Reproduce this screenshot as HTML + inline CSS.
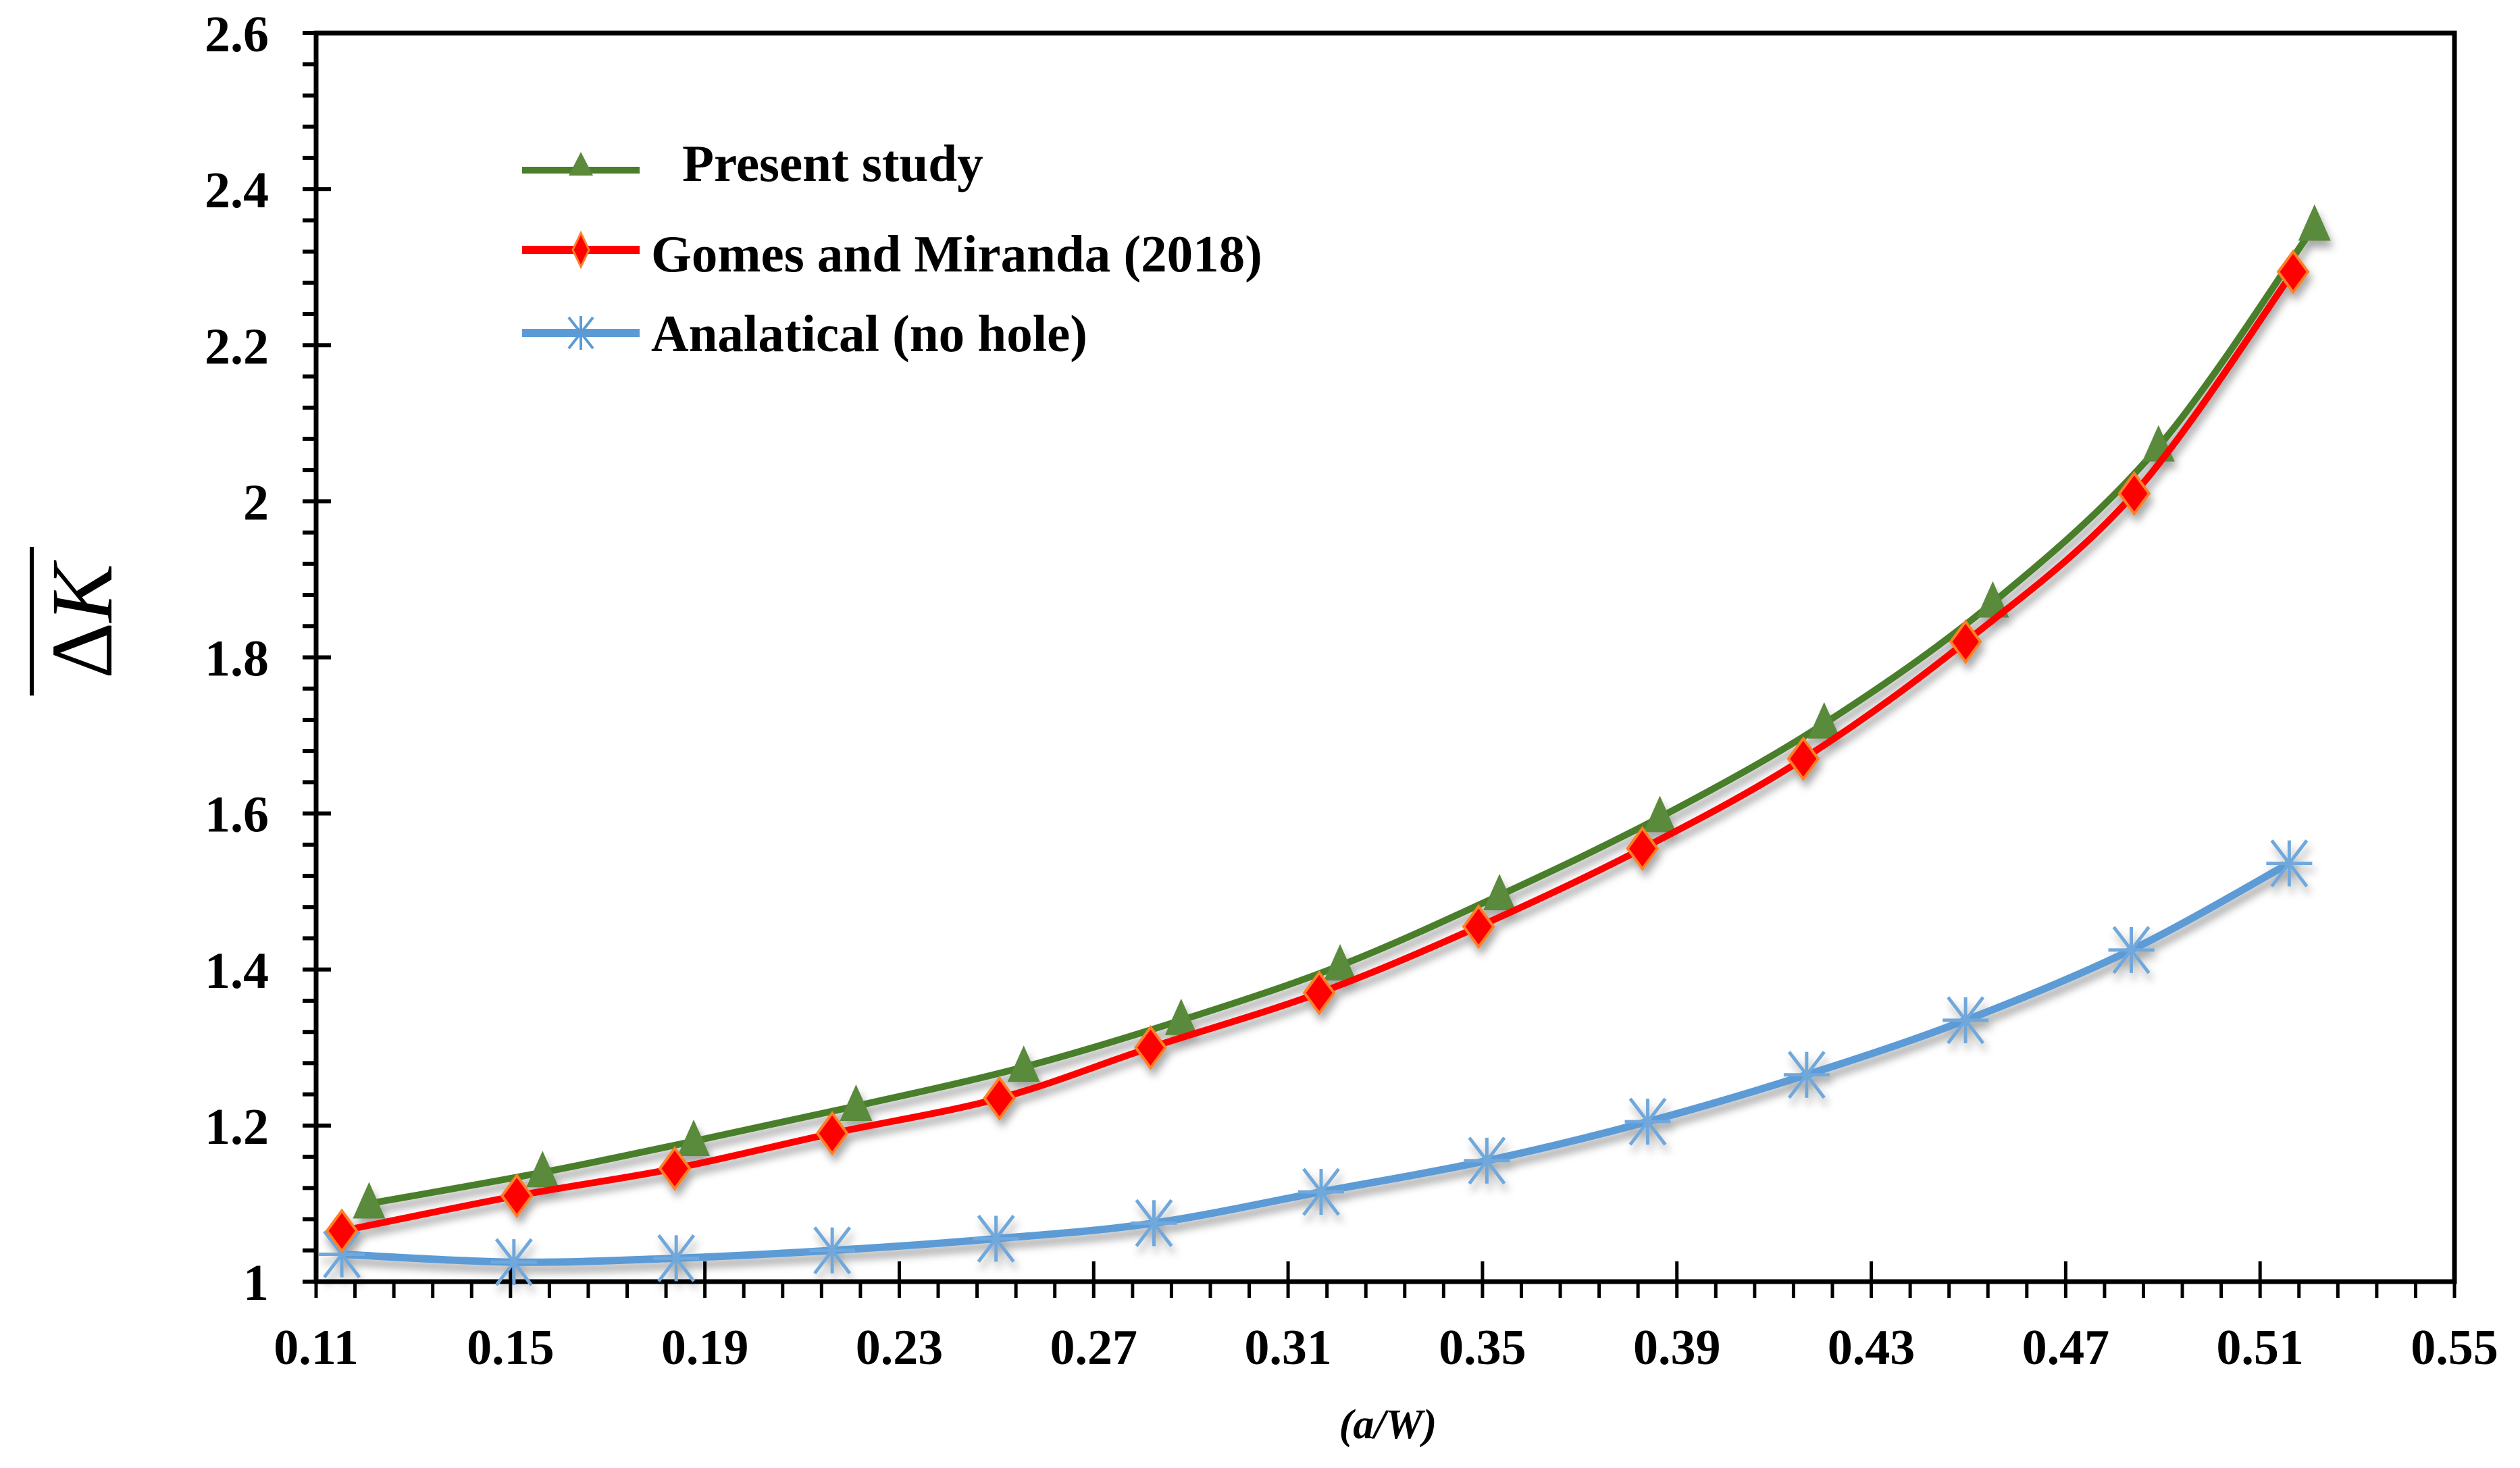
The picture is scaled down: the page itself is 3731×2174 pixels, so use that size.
<!DOCTYPE html>
<html><head><meta charset="utf-8"><style>
html,body{margin:0;padding:0;background:#fff}
svg{display:block}
text{font-family:"Liberation Serif",serif;font-weight:bold;fill:#000}
</style></head><body>
<svg id="chart" width="3731" height="2174" viewBox="0 0 3731 2174" xmlns="http://www.w3.org/2000/svg">
<defs>
<filter id="sh" x="-10%" y="-10%" width="120%" height="130%"><feDropShadow dx="4" dy="10" stdDeviation="6" flood-color="#000" flood-opacity="0.35"/></filter>
</defs>
<g id="axes"></g>
<g id="series" filter="url(#sh)"></g>
<g>
  <g>
    <line x1="773" y1="252" x2="947" y2="252" stroke="#4a7e2a" stroke-width="10"/>
    <polygon points="860,225 878,260 842,260" fill="#5a8a3a"/>
    <text x="1010" y="268" font-size="77">Present study</text>
  </g>
  <g>
    <line x1="773" y1="370" x2="947" y2="370" stroke="#ff0000" stroke-width="12"/>
    <polygon points="860,345 872,370 860,395 848,370" fill="#ff0000" stroke="#ff7f27" stroke-width="3"/>
    <text x="964" y="402" font-size="77">Gomes and Miranda (2018)</text>
  </g>
  <g>
    <line x1="773" y1="493" x2="947" y2="493" stroke="#5b9bd5" stroke-width="12"/>
    <g stroke="#5b9bd5" stroke-width="4"><line x1="860" y1="468" x2="860" y2="518"/><line x1="842" y1="470" x2="878" y2="516"/><line x1="878" y1="470" x2="842" y2="516"/><line x1="835" y1="493" x2="885" y2="493"/></g>
    <text x="964" y="520" font-size="77">Analatical (no hole)</text>
  </g>
</g>
<g transform="translate(165,920) rotate(-90)">
  <text x="0" y="0" font-size="130" text-anchor="middle" style="font-weight:normal">Δ<tspan font-style="italic">K</tspan></text>
  <line x1="-110" y1="-118" x2="110" y2="-118" stroke="#000" stroke-width="6"/>
</g>
<text x="2055" y="2130" font-size="62" font-style="italic" text-anchor="middle">(a/W)</text>
</svg>
<script>
const xTicks=["0.11","0.15","0.19","0.23","0.27","0.31","0.35","0.39","0.43","0.47","0.51","0.55"];
const yTicks=["1","1.2","1.4","1.6","1.8","2","2.2","2.4","2.6"];
const presentX=[0.1209,0.1566,0.1877,0.2211,0.2556,0.2880,0.3207,0.3535,0.3865,0.4203,0.4550,0.4891,0.5212];
const presentY=[1.10,1.14,1.18,1.225,1.275,1.335,1.405,1.495,1.595,1.715,1.87,2.07,2.353];
const gomesX=[0.1153,0.1513,0.1838,0.2162,0.2506,0.2817,0.3164,0.3492,0.3829,0.4160,0.4494,0.4841,0.5168];
const gomesY=[1.065,1.11,1.145,1.19,1.235,1.30,1.37,1.455,1.555,1.67,1.82,2.01,2.294];
const analX=[0.1153,0.1507,0.1841,0.2162,0.2499,0.2824,0.3168,0.3509,0.3840,0.4167,0.4494,0.4835,0.5160];
const analY=[1.035,1.025,1.03,1.04,1.055,1.075,1.115,1.155,1.205,1.265,1.335,1.425,1.536];

const NS="http://www.w3.org/2000/svg";
const X0=468,X1=3634,Y0=1898,Y1=49;
const xmin=0.11,xmax=0.55,ymin=1,ymax=2.6;
const sx=v=>X0+(v-xmin)/(xmax-xmin)*(X1-X0);
const sy=v=>Y0-(v-ymin)/(ymax-ymin)*(Y0-Y1);
function mk(tag,attrs,parent){const e=document.createElementNS(NS,tag);for(const k in attrs)e.setAttribute(k,attrs[k]);parent.appendChild(e);return e;}
const axes=document.getElementById('axes');
let box=mk('rect',{x:X0,y:Y1,width:X1-X0,height:Y0-Y1,fill:'none',stroke:'#000','stroke-width':7},axes);


for(let i=0;i<xTicks.length;i++){
  const v=parseFloat(xTicks[i]);const x=sx(v);
  const t=mk('line',{x1:x,y1:Y0-30,x2:x,y2:Y0+24,stroke:'#000','stroke-width':5},axes);
  
  
  const l=mk('text',{x:x,y:2020,'font-size':74,'text-anchor':'middle'},axes);l.textContent=xTicks[i];
  
  
  if(i<xTicks.length-1){for(let k=1;k<5;k++){const xm=sx(v+0.008*k);
    const m=mk('line',{x1:xm,y1:Y0,x2:xm,y2:Y0+24,stroke:'#000','stroke-width':5},axes);
    
    }}
}
for(let i=0;i<yTicks.length;i++){
  const v=parseFloat(yTicks[i]);const y=sy(v);
  const t=mk('line',{x1:X0-20,y1:y,x2:X0+22,y2:y,stroke:'#000','stroke-width':6},axes);
  
  
  const l=mk('text',{x:398,y:y+27,'font-size':76,'text-anchor':'end'},axes);l.textContent=yTicks[i];
  
  
  if(i<yTicks.length-1){for(let k=1;k<5;k++){const ym=sy(v+0.04*k);
    const m=mk('line',{x1:X0-20,y1:ym,x2:X0,y2:ym,stroke:'#000','stroke-width':6},axes);
    
    }}
}
function smooth(xs,ys){const p=xs.map((x,i)=>[sx(x),sy(ys[i])]);let d='M'+p[0][0]+','+p[0][1];
  for(let i=0;i<p.length-1;i++){const a=p[i-1]||p[i],b=p[i],c=p[i+1],e=p[i+2]||c;
    d+=` C${b[0]+(c[0]-a[0])/6},${b[1]+(c[1]-a[1])/6} ${c[0]-(e[0]-b[0])/6},${c[1]-(e[1]-b[1])/6} ${c[0]},${c[1]}`;}return d;}
const ser=document.getElementById('series');
function drawSeries(name,xs,ys,color,w,marker){
  const g=mk('g',{},ser);
  
  
  const p=mk('path',{d:smooth(xs,ys),fill:'none',stroke:color,'stroke-width':w,'stroke-linecap':'round'},g);
  
  
  xs.forEach((x,i)=>{const cx=sx(x),cy=sy(ys[i]);let m;
    if(marker==='tri'){m=mk('polygon',{points:`${cx},${cy-32} ${cx+24},${cy+22} ${cx-24},${cy+22}`,fill:'#5a8a3a'},g);}
    else if(marker==='dia'){m=mk('polygon',{points:`${cx},${cy-30} ${cx+22},${cy} ${cx},${cy+30} ${cx-22},${cy}`,fill:'#ff0000',stroke:'#ff7f27','stroke-width':4},g);}
    else {m=mk('g',{stroke:'#6fa8dc','stroke-width':5},g);
      mk('line',{x1:cx,y1:cy-34,x2:cx,y2:cy+34},m);mk('line',{x1:cx-26,y1:cy-34,x2:cx+26,y2:cy+34},m);
      mk('line',{x1:cx+26,y1:cy-34,x2:cx-26,y2:cy+34},m);mk('line',{x1:cx-34,y1:cy,x2:cx+34,y2:cy},m);}
    
    });
}
drawSeries('series-analytical',analX,analY,'#5b9bd5',11,'star');
drawSeries('series-present-study',presentX,presentY,'#4a7e2a',10,'tri');
drawSeries('series-gomes-miranda',gomesX,gomesY,'#ff0000',10,'dia');
</script>
</body></html>
